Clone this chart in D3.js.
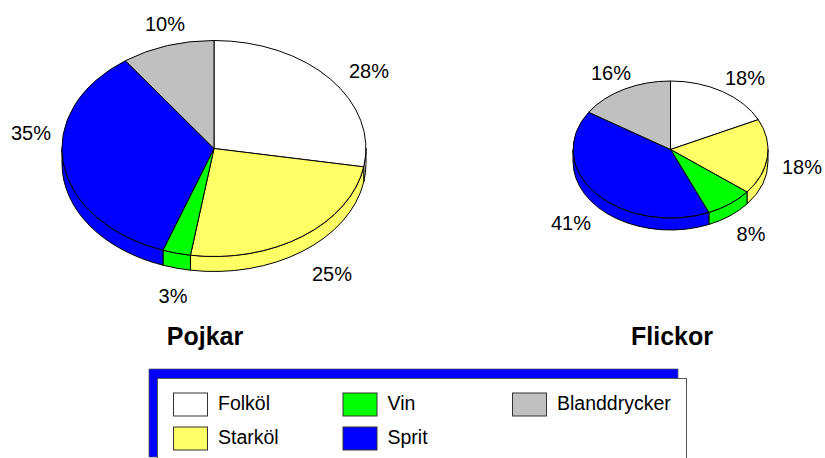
<!DOCTYPE html>
<html>
<head>
<meta charset="utf-8">
<script src="https://cdnjs.cloudflare.com/ajax/libs/d3/7.8.5/d3.min.js"></script>
<style>
  html, body { margin: 0; padding: 0; background: #fff; overflow: hidden; }
  text { font-family: "Liberation Sans", Arial, sans-serif; fill: #000; }
  .pct { font-size: 20px; text-anchor: middle; }
  .title { font-size: 25px; font-weight: bold; text-anchor: middle; }
  .leg { font-size: 19.5px; }
</style>
</head>
<body>
<div id="chart"></div>
<script>
var categories = ["Folköl", "Starköl", "Vin", "Sprit", "Blanddrycker"]
var colors = ["#ffffff", "#ffff66", "#00ff00", "#0000ff", "#c0c0c0"]
var pojkarValues = [28, 25, 3, 35, 10]
var flickorValues = [18, 18, 8, 41, 16]

var width = 825, height = 458

var svg = d3.select("#chart").append("svg")
  .attr("width", width)
  .attr("height", height)

// tilted pie: flat d3 arc squashed into an ellipse + a wall under the front half
function drawPie(o) {
  var pie = d3.pie().sort(null).value(function(d) { return d })
  var arcs = pie(o.values)
  var g = svg.append("g")
  var colorOf = d3.scaleOrdinal().domain(d3.range(o.values.length)).range(colors)

  function pt(a, dy) {
    return [o.cx + o.rx * Math.sin(a), o.cy - o.ry * Math.cos(a) + (dy || 0)]
  }

  // wall, only the part between 90 and 270 degrees can be seen
  g.selectAll("path.wall")
    .data(arcs.filter(function(d) { return d.endAngle > Math.PI / 2 && d.startAngle < Math.PI * 1.5 }))
    .enter().append("path")
    .attr("class", "wall")
    .attr("fill", function(d) { return colorOf(d.index) })
    .attr("stroke", "#000")
    .attr("stroke-width", 1)
    .attr("d", function(d) {
      var a0 = Math.max(d.startAngle, Math.PI / 2)
      var a1 = Math.min(d.endAngle, Math.PI * 1.5)
      var p0 = pt(a0), p1 = pt(a1), q1 = pt(a1, o.depth), q0 = pt(a0, o.depth)
      return "M" + p0 + "A" + o.rx + "," + o.ry + " 0 0 1 " + p1 +
        "L" + q1 + "A" + o.rx + "," + o.ry + " 0 0 0 " + q0 + "Z"
    })

  var arc = d3.arc().innerRadius(0).outerRadius(1)
  g.selectAll("path.top")
    .data(arcs)
    .enter().append("path")
    .attr("class", "top")
    .attr("transform", "translate(" + o.cx + "," + o.cy + ") scale(" + o.rx + "," + o.ry + ")")
    .attr("d", arc)
    .attr("fill", function(d) { return colorOf(d.index) })
    .attr("stroke", "#000")
    .attr("stroke-width", 1)
    .attr("vector-effect", "non-scaling-stroke")

  g.selectAll("text.pct")
    .data(o.values)
    .enter().append("text")
    .attr("class", "pct")
    .attr("x", function(d, i) { return o.labelPos[i][0] })
    .attr("y", function(d, i) { return o.labelPos[i][1] })
    .attr("dy", "0.35em")
    .text(function(d) { return d + "%" })

  svg.append("text")
    .attr("class", "title")
    .attr("x", o.titleX)
    .attr("y", 345)
    .text(o.title)
}

drawPie({
  values: pojkarValues, title: "Pojkar", titleX: 205,
  cx: 214, cy: 148.5, rx: 152, ry: 108, depth: 15,
  labelPos: [[369, 71], [332, 274], [173, 296], [31, 133], [165, 24]]
})
drawPie({
  values: flickorValues, title: "Flickor", titleX: 672,
  cx: 670.5, cy: 149.5, rx: 97.5, ry: 68.5, depth: 12,
  labelPos: [[745, 78], [802, 167], [751, 234], [571, 223], [611, 73]]
})

// legend box with its blue shadow, runs off the bottom of the picture
svg.append("rect").attr("x", 149).attr("y", 369).attr("width", 529).attr("height", 88)
  .attr("fill", "#0000ff").attr("stroke", "#555").attr("stroke-width", 0.7)
svg.append("rect").attr("x", 157.5).attr("y", 378.5).attr("width", 529).attr("height", 100)
  .attr("fill", "#fff").attr("stroke", "#555").attr("stroke-width", 1)

var legX = d3.scalePoint().domain([0, 1, 2]).range([173.5, 512.5])
var legY = d3.scalePoint().domain([0, 1]).range([393, 427])
var legend = svg.selectAll("g.leg-item")
  .data(categories)
  .enter().append("g")
  .attr("class", "leg-item")
  .attr("transform", function(d, i) {
    return "translate(" + legX(Math.floor(i / 2)) + "," + legY(i % 2) + ")"
  })
legend.append("rect")
  .attr("width", 34).attr("height", 23)
  .attr("fill", function(d, i) { return colors[i] })
  .attr("stroke", "#333").attr("stroke-width", 1)
legend.append("text")
  .attr("class", "leg")
  .attr("x", 44.5).attr("y", 10.5).attr("dy", "0.35em")
  .text(function(d) { return d })
</script>
</body>
</html>
